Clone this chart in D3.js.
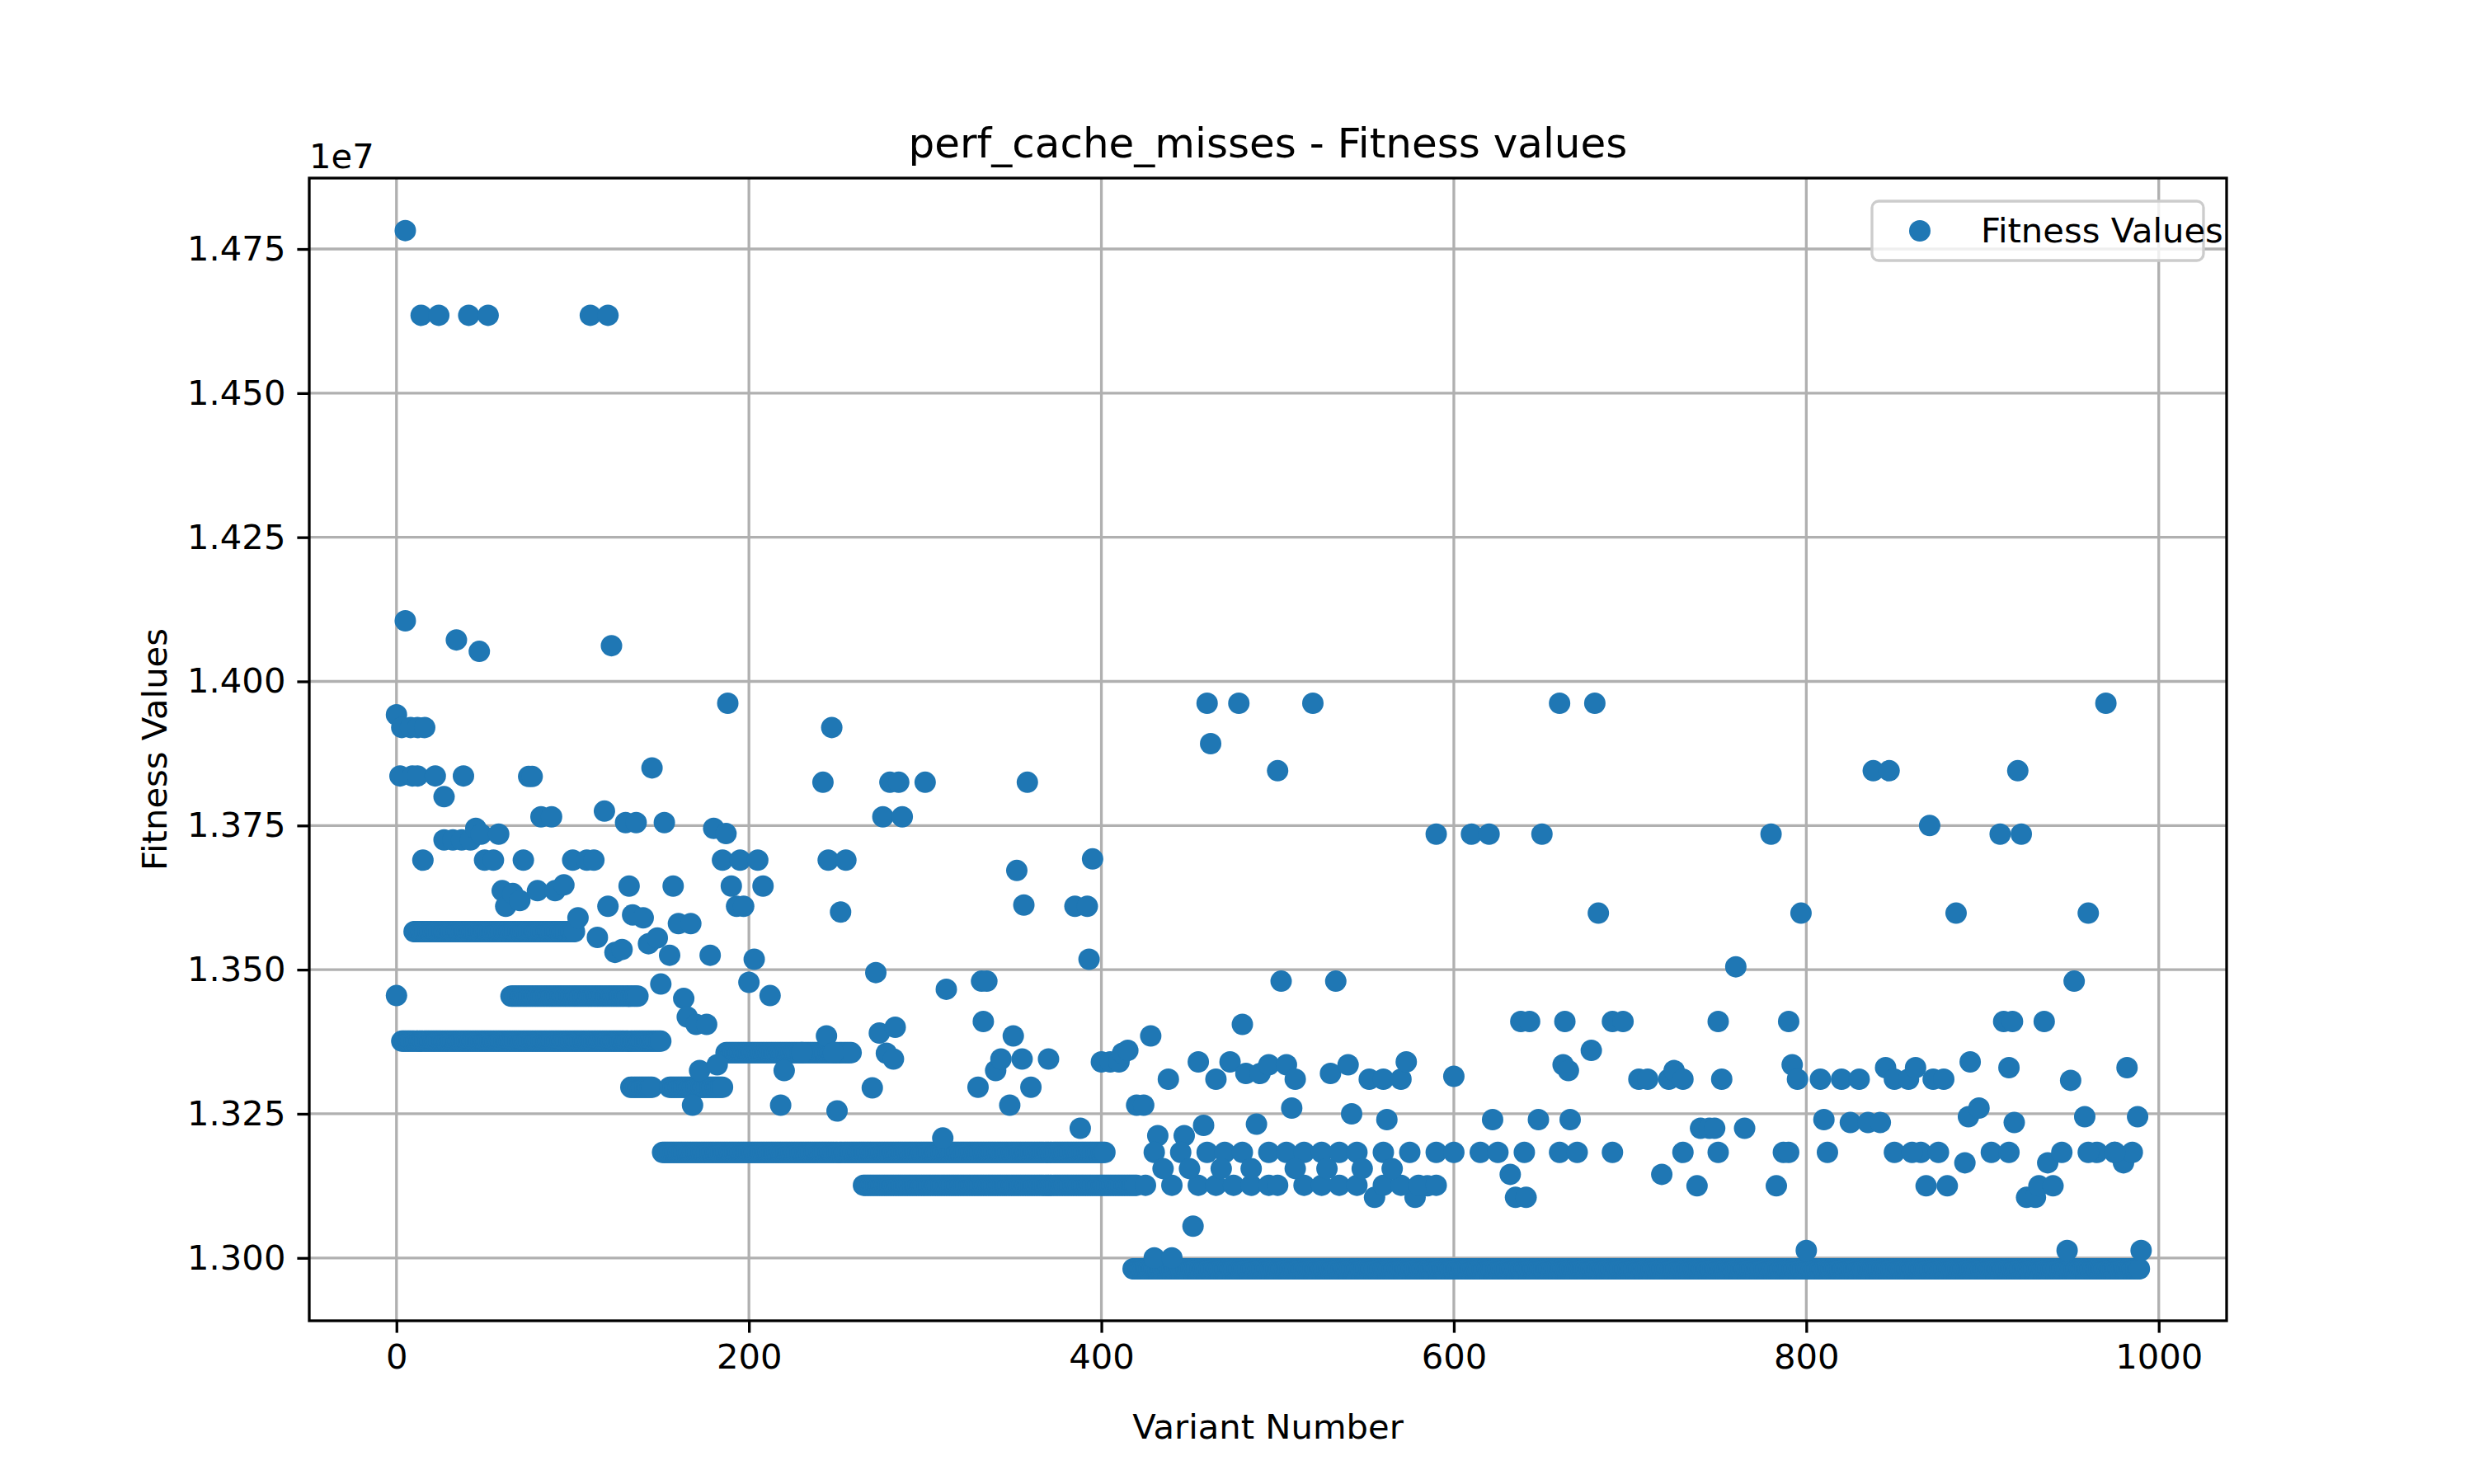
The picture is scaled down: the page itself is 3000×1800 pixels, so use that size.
<!DOCTYPE html>
<html><head><meta charset="utf-8">
<script src="https://cdn.jsdelivr.net/npm/d3@7"></script>
<style>body{margin:0;background:#fff}text{font-family:"DejaVu Sans",sans-serif}</style>
</head><body><svg id="c" width="3000" height="1800"></svg>
<script>
// dense runs: [value (x1e7), first variant, last variant]
var bands = [
  [1.3376, 3, 150], [1.3566, 10, 101], [1.3454, 65, 137], [1.3296, 133, 145],
  [1.3296, 155, 185], [1.3183, 151, 402], [1.3356, 187, 258], [1.3126, 265, 420],
  [1.2981, 418, 989]
];
var scattered = [[0,1.3455],[0,1.3942],[2,1.3836],[3,1.392],[5,1.4105],[5,1.4782],[8,1.392],[9,1.3836],[12,1.3836],[12,1.392],[14,1.4635],[16,1.392],[15,1.369],[22,1.3836],[24,1.4635],[27,1.38],[27,1.3725],[32,1.3725],[34,1.4072],[37,1.3725],[38,1.3836],[41,1.4635],[42,1.3725],[45,1.3745],[47,1.4052],[48,1.3735],[52,1.4635],[50,1.369],[55,1.369],[58,1.3735],[60,1.3637],[62,1.361],[66,1.3632],[70,1.362],[72,1.369],[75,1.3835],[77,1.3835],[80,1.3637],[82,1.3765],[88,1.3765],[90,1.3637],[95,1.3647],[100,1.369],[103,1.359],[108,1.369],[112,1.369],[110,1.4635],[114,1.3556],[118,1.3775],[120,1.4635],[120,1.361],[122,1.4062],[124,1.353],[128,1.3535],[130,1.3755],[132,1.3645],[134,1.3595],[136,1.3755],[140,1.359],[143,1.3545],[145,1.385],[148,1.3555],[150,1.3475],[152,1.3755],[155,1.3525],[157,1.3645],[160,1.358],[163,1.345],[165,1.3418],[167,1.358],[170,1.3405],[168,1.3265],[172,1.3325],[176,1.3405],[178,1.3525],[180,1.3745],[182,1.3335],[185,1.369],[187,1.3736],[188,1.3962],[190,1.3645],[193,1.361],[195,1.369],[197,1.361],[200,1.3478],[203,1.3518],[205,1.369],[208,1.3645],[212,1.3455],[218,1.3265],[220,1.3325],[230,1.3356],[242,1.3825],[244,1.3385],[245,1.369],[247,1.392],[248,1.3356],[250,1.3255],[252,1.36],[255,1.369],[270,1.3295],[272,1.3495],[274,1.339],[276,1.3765],[278,1.3355],[280,1.3825],[282,1.3345],[283,1.34],[285,1.3825],[287,1.3765],[300,1.3825],[310,1.3208],[312,1.3466],[330,1.3296],[332,1.348],[333,1.341],[335,1.348],[340,1.3325],[343,1.3345],[348,1.3265],[350,1.3385],[352,1.3672],[355,1.3345],[356,1.3612],[358,1.3825],[360,1.3296],[370,1.3345],[385,1.361],[388,1.3225],[392,1.361],[393,1.3518],[395,1.3692],[400,1.334],[405,1.334],[410,1.334],[412,1.3355],[415,1.336],[420,1.3265],[424,1.3265],[428,1.3385],[430,1.3],[432,1.3212],[438,1.331],[440,1.3],[447,1.3212],[452,1.3055],[455,1.334],[458,1.323],[460,1.3962],[462,1.3892],[465,1.331],[473,1.334],[478,1.3962],[480,1.3405],[482,1.332],[488,1.3232],[490,1.332],[495,1.3335],[500,1.3845],[502,1.348],[505,1.3335],[508,1.326],[510,1.331],[520,1.3962],[530,1.332],[533,1.348],[540,1.3335],[542,1.325],[552,1.331],[555,1.3105],[560,1.331],[562,1.324],[570,1.331],[573,1.334],[578,1.3105],[585,1.3125],[590,1.3735],[600,1.3315],[610,1.3735],[620,1.3735],[622,1.324],[632,1.3145],[635,1.3105],[638,1.341],[641,1.3105],[643,1.341],[648,1.324],[650,1.3735],[660,1.3962],[662,1.3335],[663,1.341],[665,1.3325],[666,1.324],[680,1.3962],[678,1.336],[682,1.3598],[690,1.341],[696,1.341],[705,1.331],[710,1.331],[718,1.3145],[722,1.331],[725,1.3325],[730,1.331],[738,1.3125],[740,1.3225],[745,1.3225],[748,1.3225],[750,1.341],[752,1.331],[760,1.3505],[765,1.3225],[780,1.3735],[783,1.3125],[787,1.3183],[790,1.341],[792,1.3335],[795,1.331],[797,1.3598],[800,1.3013],[808,1.331],[810,1.324],[812,1.3183],[820,1.331],[825,1.3235],[830,1.331],[835,1.3235],[838,1.3845],[842,1.3235],[845,1.333],[847,1.3845],[850,1.331],[858,1.331],[862,1.333],[865,1.3183],[868,1.3125],[870,1.375],[872,1.331],[878,1.331],[880,1.3125],[885,1.3598],[890,1.3165],[892,1.3245],[893,1.334],[898,1.326],[910,1.3735],[912,1.341],[915,1.333],[917,1.341],[918,1.3235],[920,1.3845],[922,1.3735],[925,1.3105],[930,1.3105],[932,1.3125],[935,1.341],[937,1.3165],[940,1.3125],[945,1.3183],[948,1.3013],[950,1.3308],[952,1.348],[958,1.3245],[960,1.3598],[965,1.3183],[970,1.3962],[975,1.3183],[980,1.3165],[982,1.333],[985,1.3183],[988,1.3245],[990,1.3013]];
var late3183 = [430,445,460,470,480,495,505,515,525,535,545,560,575,590,600,615,625,640,660,670,690,730,750,790,850,860,875,905,915,960,975];
var late3126 = [425,440,455,465,475,485,495,500,515,525,535,545,560,570,580,590];
var late3155 = [435,450,468,485,510,528,548,565];
var xTicks = [0, 200, 400, 600, 800, 1000];
var yTicks = [1.300, 1.325, 1.350, 1.375, 1.400, 1.425, 1.450, 1.475];

var pts = [];
bands.forEach(function (b) { for (var i = b[1]; i <= b[2]; i++) pts.push([i, b[0]]); });
scattered.forEach(function (p) { pts.push(p); });
late3183.forEach(function (x) { pts.push([x, 1.3183]); });
late3126.forEach(function (x) { pts.push([x, 1.3126]); });
late3155.forEach(function (x) { pts.push([x, 1.3155]); });

var L = 375, R = 2700, T = 216, B = 1602, blue = "#1f77b4";
var svg = d3.select("#c");
var x = d3.scaleLinear().domain([-49.5, 1038.5]).range([L, R]);
var y = d3.scaleLinear().domain([1.2891, 1.4873]).range([B, T]);

// grid
svg.append("g").selectAll("line").data(xTicks).enter().append("line")
    .attr("x1", x).attr("x2", x).attr("y1", T).attr("y2", B)
    .attr("stroke", "#b0b0b0").attr("stroke-width", 3.3);
svg.append("g").selectAll("line").data(yTicks).enter().append("line")
    .attr("y1", y).attr("y2", y).attr("x1", L).attr("x2", R)
    .attr("stroke", "#b0b0b0").attr("stroke-width", 3.3);

svg.append("g").selectAll("circle").data(pts).enter().append("circle")
    .attr("cx", function (d) { return x(d[0]); })
    .attr("cy", function (d) { return y(d[1]); })
    .attr("r", 13).attr("fill", blue);

var xa = svg.append("g").attr("transform", "translate(0," + B + ")")
    .call(d3.axisBottom(x).tickValues(xTicks).tickSize(14.6).tickPadding(14).tickFormat(d3.format("d")));
var ya = svg.append("g").attr("transform", "translate(" + L + ",0)")
    .call(d3.axisLeft(y).tickValues(yTicks).tickSize(14.6).tickPadding(14).tickFormat(d3.format(".3f")));
[xa, ya].forEach(function (a) {
    a.select(".domain").remove();
    a.selectAll("line").attr("stroke", "#000").attr("stroke-width", 3.3);
    a.selectAll("text").attr("font-size", 41.7).attr("fill", "#000").attr("font-family", "DejaVu Sans");
});
svg.append("rect").attr("x", L).attr("y", T).attr("width", R - L).attr("height", B - T)
    .attr("fill", "none").attr("stroke", "#000").attr("stroke-width", 3.3);

svg.append("text").attr("x", L).attr("y", T - 12).attr("font-size", 41.7).text("1e7");
svg.append("text").attr("x", (L + R) / 2).attr("y", T - 25).attr("text-anchor", "middle")
    .attr("font-size", 50).text("perf_cache_misses - Fitness values");
svg.append("text").attr("x", (L + R) / 2).attr("y", 1745).attr("text-anchor", "middle")
    .attr("font-size", 41.7).text("Variant Number");
svg.append("text").attr("transform", "translate(202," + (T + B) / 2 + ") rotate(-90)")
    .attr("text-anchor", "middle").attr("font-size", 41.7).text("Fitness Values");

// legend
var lg = svg.append("g").attr("transform", "translate(2270,244)");
lg.append("rect").attr("width", 402).attr("height", 72).attr("rx", 8)
    .attr("fill", "#fff").attr("fill-opacity", 0.8).attr("stroke", "#cccccc").attr("stroke-width", 3.3);
lg.append("circle").attr("cx", 58).attr("cy", 36).attr("r", 13).attr("fill", blue);
lg.append("text").attr("x", 132).attr("y", 50).attr("font-size", 41.7).text("Fitness Values");
</script></body></html>
